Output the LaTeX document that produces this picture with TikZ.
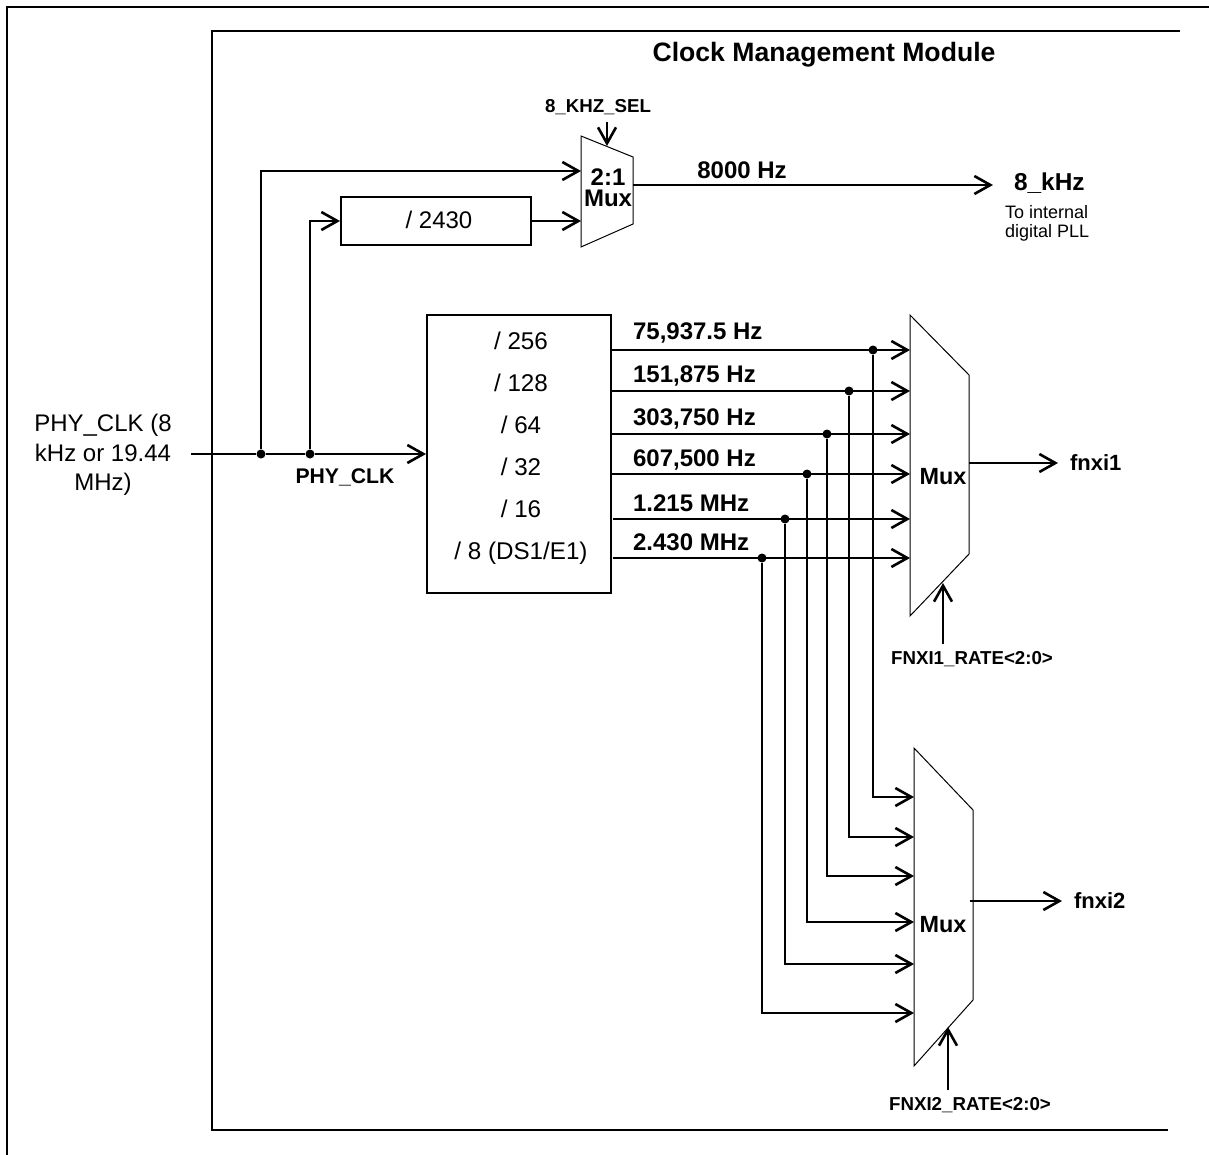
\documentclass[tikz,border=0pt]{standalone}
\usepackage{fontspec}
\setmainfont{Liberation Sans}
\usetikzlibrary{arrows.meta}
\tikzset{
  wire/.style={line width=1.3pt},
  sig/.style={line width=1.3pt,-{Straight Barb[length=8pt,width=9pt]}},
  mux/.style={draw,line width=0.5pt},
  blk/.style={draw,line width=1pt},
  dot/.style={circle,fill,inner sep=0pt,minimum size=4.5pt},
  lbl/.style={font=\bfseries\fontsize{12}{14}\selectfont},
  txt/.style={font=\fontsize{12}{14}\selectfont},
  sml/.style={font=\bfseries\fontsize{9.35}{11}\selectfont},
}
\begin{document}
\begin{tikzpicture}[x=0.5pt,y=-0.5pt]
\useasboundingbox (0,0) rectangle (1209,1155);
\draw[line width=1pt] (7,1155) -- (7,7) -- (1209,7);
\draw[line width=1.4pt] (1180,31) -- (212,31) -- (212,1130) -- (1168,1130);
\node[font=\bfseries\fontsize{13.3}{15}\selectfont] (title) at (824,55) {Clock Management Module};

\node[align=center,font=\fontsize{12}{14.75}\selectfont] (in) at (103,455) {PHY\_CLK (8\\kHz or 19.44\\MHz)};
\coordinate (src) at (191,454);
\node[dot] (j1) at (261,454) {};
\node[dot] (j2) at (310,454) {};
\node[font=\bfseries\fontsize{10.6}{13}\selectfont] (phy) at (345,477) {PHY\_CLK};
\node[blk,minimum width=92pt,minimum height=139pt] (div) at (519,454) {};
\node[align=center,font=\fontsize{12.1}{21}\selectfont] (divtxt) at (521,448) {/ 256\\/ 128\\/ 64\\/ 32\\/ 16\\/ 8 (DS1/E1)};
\draw[wire] (src) -- (j1) -- (j2);
\draw[sig] (j2) -- (div.west);

\node[blk,minimum width=95pt,minimum height=24pt] (d2430) at (436,221) {};
\node[txt] (t2430) at (439,220) {/ 2430};
\draw[mux] (581,136) -- (633,157) -- (633,224) -- (581,247) -- cycle;
\node[align=center,font=\bfseries\fontsize{12}{10.6}\selectfont] (mux0) at (608,188) {2:1\\Mux};
\coordinate (m0a) at (581,171);
\coordinate (m0b) at (581,221);
\coordinate (m0s) at (607,146);
\coordinate (m0o) at (633,185);
\coordinate (k8a) at (993,185);
\draw[sig] (j1) |- (m0a);
\draw[sig] (j2) |- (d2430.west);
\draw[sig] (d2430.east) -- (m0b);
\node[sml] (sel0) at (598,107) {8\_KHZ\_SEL};
\draw[sig] (sel0.south -| m0s) -- (m0s);
\draw[sig] (m0o) -- (k8a);
\node[lbl] (f8k) at (742,170) {8000 Hz};
\node[anchor=west,font=\bfseries\fontsize{12.2}{14}\selectfont] (k8) at (1007,183) {8\_kHz};
\node[align=left,anchor=west,font=\fontsize{9}{9.6}\selectfont] (pll) at (998,223) {To internal\\digital PLL};

\coordinate (o1) at (611,350);
\coordinate (o2) at (611,391);
\coordinate (o3) at (611,434);
\coordinate (o4) at (611,474);
\coordinate (o5) at (613,519);
\coordinate (o6) at (613,558);
\coordinate (a1) at (910,350);
\coordinate (a2) at (910,391);
\coordinate (a3) at (910,434);
\coordinate (a4) at (910,474);
\coordinate (a5) at (910,519);
\coordinate (a6) at (910,558);
\coordinate (b1) at (914,797);
\coordinate (b2) at (914,837);
\coordinate (b3) at (914,876);
\coordinate (b4) at (914,922);
\coordinate (b5) at (914,964);
\coordinate (b6) at (914,1013);
\node[lbl,anchor=west] (f1) at (626,333) {75,937.5 Hz};
\node[lbl,anchor=west] (f2) at (626,376) {151,875 Hz};
\node[lbl,anchor=west] (f3) at (626,419) {303,750 Hz};
\node[lbl,anchor=west] (f4) at (626,460) {607,500 Hz};
\node[lbl,anchor=west] (f5) at (626,503) {1.215 MHz};
\node[lbl,anchor=west] (f6) at (626,542) {2.430 MHz};
\node[dot] (t1) at (873,350) {};
\node[dot] (t2) at (849,391) {};
\node[dot] (t3) at (827,434) {};
\node[dot] (t4) at (807,474) {};
\node[dot] (t5) at (785,519) {};
\node[dot] (t6) at (762,558) {};
\draw[sig] (o1) -- (a1);
\draw[sig] (o2) -- (a2);
\draw[sig] (o3) -- (a3);
\draw[sig] (o4) -- (a4);
\draw[sig] (o5) -- (a5);
\draw[sig] (o6) -- (a6);
\draw[sig] (t1) |- (b1);
\draw[sig] (t2) |- (b2);
\draw[sig] (t3) |- (b3);
\draw[sig] (t4) |- (b4);
\draw[sig] (t5) |- (b5);
\draw[sig] (t6) |- (b6);

\draw[mux] (910,315) -- (969,375) -- (969,554) -- (910,616) -- cycle;
\node[font=\bfseries\fontsize{11.7}{14}\selectfont] (mux1) at (943,477) {Mux};
\coordinate (m1o) at (969,463);
\coordinate (y1) at (1058,463);
\coordinate (m1s) at (943,583);
\draw[sig] (m1o) -- (y1);
\node[anchor=west,font=\bfseries\fontsize{11}{13}\selectfont] (fn1) at (1063,463) {fnxi1};
\node[sml] (r1) at (972,659) {FNXI1\_RATE<2:0>};
\draw[sig] (r1.north -| m1s) -- (m1s);

\draw[mux] (914,748) -- (973,810) -- (973,1000) -- (914,1066) -- cycle;
\node[font=\bfseries\fontsize{11.7}{14}\selectfont] (mux2) at (943,925) {Mux};
\coordinate (m2o) at (970,901);
\coordinate (y2) at (1062,901);
\coordinate (m2s) at (948,1027);
\draw[sig] (m2o) -- (y2);
\node[anchor=west,font=\bfseries\fontsize{11}{13}\selectfont] (fn2) at (1067,901) {fnxi2};
\node[sml] (r2) at (970,1105) {FNXI2\_RATE<2:0>};
\draw[sig] (r2.north -| m2s) -- (m2s);
\end{tikzpicture}
\end{document}
